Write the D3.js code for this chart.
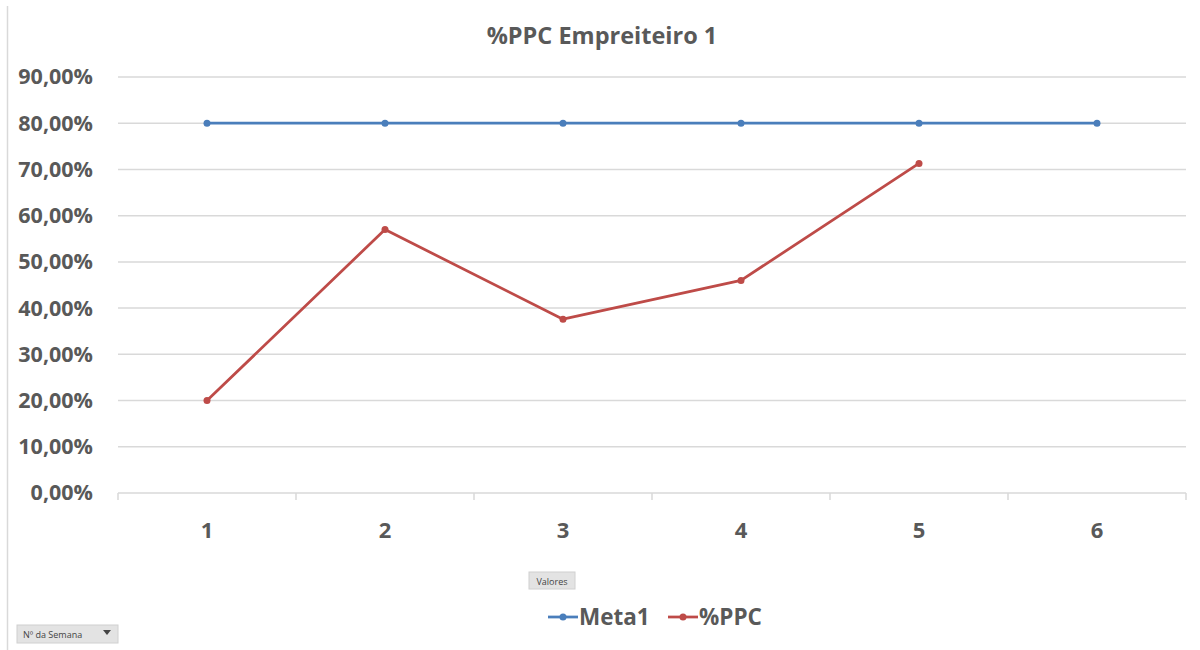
<!DOCTYPE html>
<html>
<head>
<meta charset="utf-8">
<script src="https://cdn.jsdelivr.net/npm/d3@7"></script>
<style>
  html, body { margin: 0; padding: 0; background: #fff; }
  svg { display: block; font-family: "Open Sans", "Liberation Sans", sans-serif; }
</style>
</head>
<body>
<svg id="chart" width="1200" height="650"></svg>
<script>
// Weekly PPC data
const weeks = ["1", "2", "3", "4", "5", "6"];
const meta1 = [0.80, 0.80, 0.80, 0.80, 0.80, 0.80];
const ppc = [0.20, 0.57, 0.376, 0.46, 0.713, null];
const yTicks = [0, 0.1, 0.2, 0.3, 0.4, 0.5, 0.6, 0.7, 0.8, 0.9];
const seriesNames = ["Meta1", "%PPC"];
const seriesColors = ["#4a7ebb", "#be4b48"];
const chartTitle = "%PPC Empreiteiro 1";

const svg = d3.select("#chart");
const textColor = "#595959";
const gridColor = "#d9d9d9";

const plot = { left: 118, right: 1186, top: 77, bottom: 493 };

const x = d3.scaleBand().domain(weeks).range([plot.left, plot.right]).padding(0);
const y = d3.scaleLinear().domain([0, 0.9]).range([plot.bottom, plot.top]);

// Outer frame edge on the left
svg.append("line")
  .attr("x1", 7.5).attr("x2", 7.5).attr("y1", 6).attr("y2", 650)
  .attr("stroke", "#d9d9d9").attr("stroke-width", 1.5);

// Title
svg.append("text")
  .attr("x", 602).attr("y", 44)
  .attr("text-anchor", "middle")
  .attr("font-size", 23.5).attr("font-weight", 700)
  .attr("fill", textColor)
  .text(chartTitle);

// Horizontal gridlines
svg.append("g")
  .selectAll("line")
  .data(yTicks.filter(d => d > 0))
  .join("line")
  .attr("x1", plot.left).attr("x2", plot.right)
  .attr("y1", d => y(d)).attr("y2", d => y(d))
  .attr("stroke", gridColor).attr("stroke-width", 1.5);

// Y axis labels
const fmt = d => d3.format(".2f")(d * 100).replace(".", ",") + "%";
const yAxis = d3.axisLeft(y).tickValues(yTicks).tickFormat(fmt).tickSize(0).tickPadding(0);
const yG = svg.append("g").attr("transform", `translate(${93},0)`).call(yAxis);
yG.select(".domain").remove();
yG.selectAll("text")
  .attr("font-size", 21.5).attr("font-weight", 700)
  .attr("fill", textColor)
  .attr("font-family", "'Open Sans', sans-serif");

// X axis: baseline with ticks at category boundaries
const xAxisG = svg.append("g");
xAxisG.append("line")
  .attr("x1", plot.left).attr("x2", plot.right)
  .attr("y1", plot.bottom).attr("y2", plot.bottom)
  .attr("stroke", gridColor).attr("stroke-width", 1.5);
const boundaries = weeks.map(w => x(w)).concat([x(weeks[weeks.length - 1]) + x.bandwidth()]);
xAxisG.selectAll("line.tick")
  .data(boundaries)
  .join("line")
  .attr("class", "tick")
  .attr("x1", d => d).attr("x2", d => d)
  .attr("y1", plot.bottom).attr("y2", plot.bottom + 7)
  .attr("stroke", gridColor).attr("stroke-width", 1.5);
xAxisG.selectAll("text")
  .data(weeks)
  .join("text")
  .attr("x", d => x(d) + x.bandwidth() / 2)
  .attr("y", 538)
  .attr("text-anchor", "middle")
  .attr("font-size", 22).attr("font-weight", 700)
  .attr("fill", textColor)
  .text(d => d);

// Series lines and markers
const cx = d => x(d) + x.bandwidth() / 2;
const allSeries = [meta1, ppc];
allSeries.forEach((vals, i) => {
  const pts = weeks.map((w, j) => ({ w, v: vals[j] })).filter(p => p.v !== null);
  const line = d3.line().x(p => cx(p.w)).y(p => y(p.v));
  svg.append("path")
    .datum(pts)
    .attr("d", line)
    .attr("fill", "none")
    .attr("stroke", seriesColors[i])
    .attr("stroke-width", 2.75)
    .attr("stroke-linejoin", "round");
  svg.append("g").selectAll("circle")
    .data(pts)
    .join("circle")
    .attr("cx", p => cx(p.w)).attr("cy", p => y(p.v))
    .attr("r", 3.5)
    .attr("fill", seriesColors[i]);
});

// "Valores" field button
const btn = svg.append("g");
btn.append("rect")
  .attr("x", 529).attr("y", 572).attr("width", 46).attr("height", 17)
  .attr("fill", "#e3e3e3").attr("stroke", "#d0d0d0");
btn.append("text")
  .attr("x", 552).attr("y", 584.5)
  .attr("text-anchor", "middle")
  .attr("font-size", 9).attr("fill", "#444")
  .text("Valores");

// Legend
const legendItems = [
  { name: seriesNames[0], color: seriesColors[0], x0: 548, tx: 579 },
  { name: seriesNames[1], color: seriesColors[1], x0: 668, tx: 699 }
];
const lg = svg.append("g");
legendItems.forEach(it => {
  lg.append("line")
    .attr("x1", it.x0).attr("x2", it.x0 + 30)
    .attr("y1", 617).attr("y2", 617)
    .attr("stroke", it.color).attr("stroke-width", 2.75);
  lg.append("circle")
    .attr("cx", it.x0 + 15).attr("cy", 617).attr("r", 3.5)
    .attr("fill", it.color);
  lg.append("text")
    .attr("x", it.tx).attr("y", 625)
    .attr("font-size", 22.5).attr("font-weight", 700)
    .attr("fill", textColor)
    .text(it.name);
});

// "Nº da Semana" field button with dropdown arrow
const fb = svg.append("g");
fb.append("rect")
  .attr("x", 17).attr("y", 625).attr("width", 101).attr("height", 18)
  .attr("fill", "#e3e3e3").attr("stroke", "#d0d0d0");
fb.append("text")
  .attr("x", 23).attr("y", 638)
  .attr("font-size", 9).attr("fill", "#444")
  .text("Nº da Semana");
fb.append("path")
  .attr("d", "M103,630 L111,630 L107,635 Z")
  .attr("fill", "#444");
</script>
</body>
</html>
